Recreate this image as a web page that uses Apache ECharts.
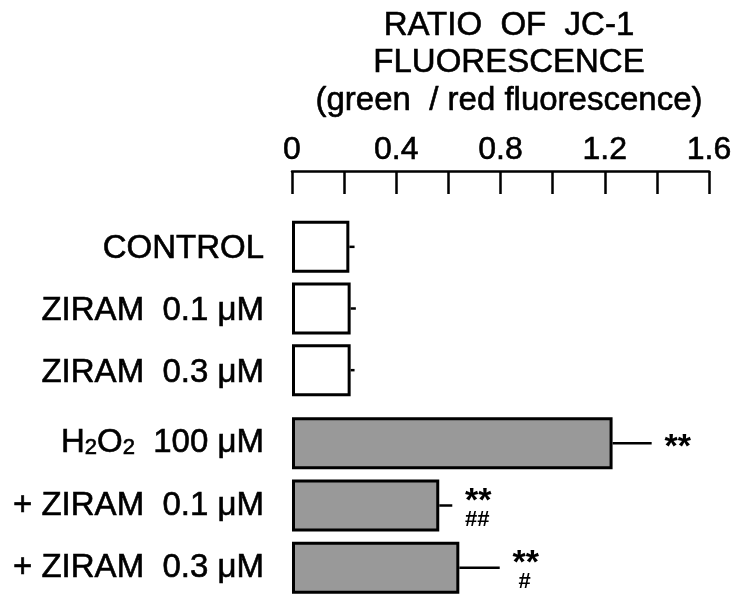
<!DOCTYPE html>
<html lang="en">
<head>
  <meta charset="UTF-8">
  <title>JC-1 fluorescence ratio</title>
  <script src="https://cdn.jsdelivr.net/npm/echarts@6/dist/echarts.min.js"></script>
  <style>
    html, body { margin: 0; padding: 0; background: #fff; }
  </style>
</head>
<body>
  <div id="container" style="width: 737px;height:601px;"></div>
  <script>
    // control group (white bars)
    var ctrlNames = ['CONTROL', 'ZIRAM  0.1 μM', 'ZIRAM  0.3 μM'];
    var ctrlMeans = [0.22, 0.225, 0.225];
    var ctrlErrs = [0.02, 0.02, 0.015];
    var ctrlMarks = [['', ''], ['', ''], ['', '']];

    // H2O2 group (grey bars)
    var h2o2Names = ['{n|H}{s|2}{n|O}{s|2}{n|  100 μM}', '+ ZIRAM  0.1 μM', '+ ZIRAM  0.3 μM'];
    var h2o2Means = [1.23, 0.565, 0.642];
    var h2o2Errs = [0.15, 0.05, 0.155];
    var h2o2Marks = [['**', ''], ['**', '##'], ['**', '#']];

    var tickLabels = ['0', '0.4', '0.8', '1.2', '1.6'];

    var myChart = echarts.init(document.getElementById('container'));

    var fontFam = 'Liberation Sans, Arial, sans-serif';
    // slight outline to get the heavier look of the original lettering
    var heavy = { textBorderColor: '#000', textBorderWidth: 0.6 };

    function errSeries(idx, means, errs, marks) {
      return {
        type: 'custom',
        xAxisIndex: idx,
        yAxisIndex: idx,
        z: 5,
        data: means.map(function (m, i) { return [m, i, m + errs[i]]; }),
        renderItem: function (params, api) {
          var i = api.value(1);
          var p0 = api.coord([api.value(0), i]);
          var p1 = api.coord([api.value(2), i]);
          var mk = marks[i];
          var cx = p1[0] + 26;
          var kids = [{
            type: 'line',
            shape: { x1: p0[0], y1: p0[1], x2: p1[0], y2: p1[1] },
            style: { stroke: '#000', lineWidth: 2.5 }
          }];
          if (mk[0]) {
            kids.push({
              type: 'text',
              style: {
                text: mk[0], x: cx, y: mk[1] ? p0[1] - 4 : p0[1] + 4,
                align: 'center', verticalAlign: 'middle',
                font: 'bold 34px ' + fontFam, fill: '#000'
              }
            });
          }
          if (mk[1]) {
            kids.push({
              type: 'text',
              style: {
                text: mk[1], x: cx - 1, y: p0[1] + 14,
                align: 'center', verticalAlign: 'middle',
                font: 'bold 22px ' + fontFam, fill: '#000'
              }
            });
          }
          return { type: 'group', children: kids };
        }
      };
    }

    var xBase = {
      type: 'value',
      min: 0,
      max: 1.6,
      interval: 0.2,
      splitLine: { show: false }
    };

    myChart.setOption({
      backgroundColor: '#ffffff',
      animation: false,
      title: {
        text: 'RATIO  OF  JC-1\nFLUORESCENCE\n(green  / red fluorescence)',
        left: 504,
        textAlign: 'center',
        top: 2,
        textStyle: Object.assign({
          fontFamily: fontFam,
          fontSize: 33,
          fontWeight: 'normal',
          color: '#000',
          lineHeight: 37.5
        }, heavy)
      },
      grid: [
        { left: 292, right: 28, top: 216, height: 185 },
        { left: 292, right: 28, top: 412, height: 187 }
      ],
      xAxis: [
        Object.assign({}, xBase, {
          gridIndex: 0,
          position: 'top',
          offset: 45,
          axisLine: { show: true, lineStyle: { color: '#000', width: 2.5 } },
          axisTick: { show: true, inside: true, length: 23, lineStyle: { color: '#000', width: 2.5 } },
          axisLabel: Object.assign({
            margin: 5,
            fontFamily: fontFam,
            fontSize: 32,
            color: '#000',
            formatter: function (v) {
              var k = Math.round(v * 10);
              return k % 4 === 0 ? tickLabels[k / 4] : '';
            }
          }, heavy)
        }),
        Object.assign({}, xBase, {
          gridIndex: 1,
          show: false
        })
      ],
      yAxis: [0, 1].map(function (g) {
        return {
          type: 'category',
          gridIndex: g,
          inverse: true,
          data: g === 0 ? ctrlNames : h2o2Names,
          axisLine: { show: false },
          axisTick: { show: false },
          axisLabel: Object.assign({
            margin: 28,
            fontFamily: fontFam,
            fontSize: 33,
            color: '#000',
            padding: g === 0 ? [5, 0, 0, 0] : 0,
            rich: {
              n: Object.assign({ fontFamily: fontFam, fontSize: 33, color: '#000' }, heavy),
              s: Object.assign({ fontFamily: fontFam, fontSize: 22, color: '#000', padding: [10, 0, 0, 0] }, heavy)
            }
          }, heavy)
        };
      }),
      series: [
        {
          type: 'bar',
          xAxisIndex: 0,
          yAxisIndex: 0,
          barWidth: 52,
          data: ctrlMeans,
          itemStyle: { color: '#ffffff', borderColor: '#000', borderWidth: 3 }
        },
        {
          type: 'bar',
          xAxisIndex: 1,
          yAxisIndex: 1,
          barWidth: 52,
          data: h2o2Means,
          itemStyle: { color: '#999999', borderColor: '#000', borderWidth: 3 }
        },
        errSeries(0, ctrlMeans, ctrlErrs, ctrlMarks),
        errSeries(1, h2o2Means, h2o2Errs, h2o2Marks)
      ]
    });
  </script>
</body>
</html>
